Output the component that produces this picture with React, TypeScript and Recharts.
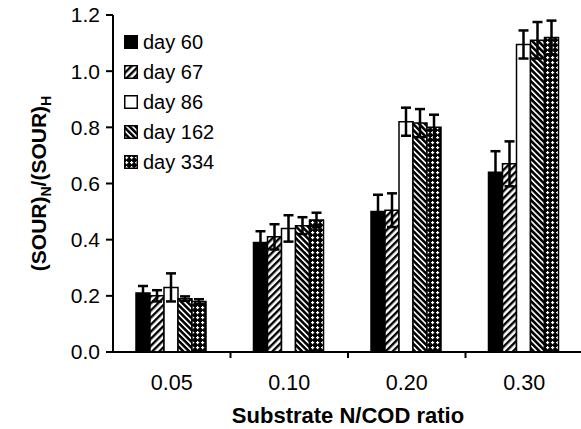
import React from 'react';
import { BarChart, Bar, XAxis, YAxis, ErrorBar } from 'recharts';

const FONT = '"Liberation Sans", Arial, Helvetica, sans-serif';

const categories = ['0.05', '0.10', '0.20', '0.30'];
const seriesNames = ['day 60', 'day 67', 'day 86', 'day 162', 'day 334'];

const day60 = [0.21, 0.39, 0.5, 0.64];
const err60 = [0.025, 0.04, 0.06, 0.075];
const day67 = [0.2, 0.41, 0.505, 0.67];
const err67 = [0.02, 0.045, 0.06, 0.08];
const day86 = [0.23, 0.44, 0.82, 1.095];
const err86 = [0.05, 0.047, 0.05, 0.05];
const day162 = [0.19, 0.45, 0.815, 1.11];
const err162 = [0.008, 0.03, 0.05, 0.065];
const day334 = [0.18, 0.47, 0.8, 1.12];
const err334 = [0.008, 0.026, 0.045, 0.06];

const yTicks = [0, 0.2, 0.4, 0.6, 0.8, 1.0, 1.2];
const xTitle = 'Substrate N/COD ratio';

const data = categories.map((c, i) => ({
  cat: c,
  d60: day60[i], e60: err60[i],
  d67: day67[i], e67: err67[i],
  d86: day86[i], e86: err86[i],
  d162: day162[i], e162: err162[i],
  d334: day334[i], e334: err334[i],
}));

const series = [
  { key: 'd60', err: 'e60', name: seriesNames[0], fill: '#000' },
  { key: 'd67', err: 'e67', name: seriesNames[1], fill: 'url(#pat67)' },
  { key: 'd86', err: 'e86', name: seriesNames[2], fill: '#fff' },
  { key: 'd162', err: 'e162', name: seriesNames[3], fill: 'url(#pat162)' },
  { key: 'd334', err: 'e334', name: seriesNames[4], fill: 'url(#pat334)' },
];

const TS = 6;
const TM = 17;

const XTick = (props: any) => {
  const { x, y, payload, index, width, visibleTicksCount } = props;
  const n = visibleTicksCount || categories.length;
  const w = width || 470;
  const half = w / n / 2;
  return (
    <g>
      <text x={x} y={y} dy="0.71em" textAnchor="middle" fontSize={21.5} fill="#000" fontFamily={FONT}>
        {payload.value}
      </text>
      {index < n - 1 && (
        <line x1={x + half} x2={x + half} y1={y - TM - TS} y2={y - TM} stroke="#000" strokeWidth={2} />
      )}
    </g>
  );
};

const YLabel = (props: any) => {
  const vb = props.viewBox || { x: 0, y: 15, width: 113, height: 337 };
  const cx = vb.x + 46;
  const cy = vb.y + vb.height / 2;
  return (
    <text x={cx} y={cy} transform={`rotate(-90 ${cx} ${cy})`} textAnchor="middle" fontSize={21}
      fontWeight="bold" fontFamily={FONT} fill="#000">
      <tspan>(SOUR)</tspan>
      <tspan fontSize={14} dy={5}>N</tspan>
      <tspan dy={-5}>/(SOUR)</tspan>
      <tspan fontSize={14} dy={5}>H</tspan>
    </text>
  );
};

const XLabel = (props: any) => {
  const vb = props.viewBox || { x: 113, y: 352, width: 470, height: 77 };
  return (
    <text x={vb.x + vb.width / 2} y={vb.y + 71} textAnchor="middle" fontSize={22} fontWeight="bold"
      fontFamily={FONT} fill="#000">
      {xTitle}
    </text>
  );
};

const Patterns = () => (
  <svg width={0} height={0} style={{ position: 'absolute' }}>
    <defs>
      <pattern id="pat67" width={5} height={5} patternUnits="userSpaceOnUse" patternTransform="rotate(45)">
        <rect width={5} height={5} fill="#fff" />
        <rect width={2.4} height={5} fill="#000" />
      </pattern>
      <pattern id="pat162" width={4.2} height={4.2} patternUnits="userSpaceOnUse" patternTransform="rotate(-45)">
        <rect width={4.2} height={4.2} fill="#000" />
        <rect width={1.6} height={4.2} fill="#fff" />
      </pattern>
      <pattern id="pat334" width={5} height={5} patternUnits="userSpaceOnUse">
        <rect width={5} height={5} fill="#000" />
        <rect x={2} y={1} width={1.2} height={3.2} fill="#fff" />
        <rect x={1} y={2} width={3.2} height={1.2} fill="#fff" />
      </pattern>
    </defs>
  </svg>
);

const Legend = () => (
  <div style={{ position: 'absolute', left: 124, top: 27, fontFamily: FONT }}>
    {series.map((s) => (
      <div key={s.key} style={{ display: 'flex', alignItems: 'center', height: 30 }}>
        <svg width={14} height={14} style={{ display: 'block' }}>
          <rect x={0.75} y={0.75} width={12.5} height={12.5} fill={s.fill} stroke="#000" strokeWidth={1.5} />
        </svg>
        <span style={{ marginLeft: 5, fontSize: 20, lineHeight: '30px', color: '#000' }}>{s.name}</span>
      </div>
    ))}
  </div>
);

export default function App() {
  return (
    <div style={{ position: 'absolute', left: 0, top: 0, width: 581, height: 429, overflow: 'hidden', background: '#fff' }}>
      <Patterns />
      <BarChart
        width={590}
        height={429}
        data={data}
        margin={{ top: 15, right: 7, bottom: 0, left: 0 }}
        barCategoryGap={23}
        barGap={0}
      >
        <XAxis
          dataKey="cat"
          height={77}
          axisLine={{ stroke: '#000', strokeWidth: 2 }}
          tickLine={false}
          tickSize={TS}
          tickMargin={TM}
          tick={<XTick />}
          interval={0}
          label={<XLabel />}
        />
        <XAxis xAxisId="top" dataKey="cat" orientation="top" height={0} tick={false} tickLine={false}
          axisLine={{ stroke: '#000', strokeWidth: 1.5 }} />
        <YAxis
          width={113}
          domain={[0, 1.2]}
          ticks={yTicks}
          interval={0}
          tickFormatter={(v: number) => v.toFixed(1)}
          axisLine={{ stroke: '#000', strokeWidth: 2 }}
          tickLine={{ stroke: '#000', strokeWidth: 2 }}
          tickSize={7}
          tickMargin={6}
          tick={{ fontSize: 21, fill: '#000', fontFamily: FONT }}
          label={<YLabel />}
        />
        {series.map((s) => (
          <Bar key={s.key} dataKey={s.key} fill={s.fill} stroke="#000" strokeWidth={1.5} isAnimationActive={false}>
            <ErrorBar dataKey={s.err} width={5} stroke="#000" strokeWidth={2.5} isAnimationActive={false} />
          </Bar>
        ))}
      </BarChart>
      <Legend />
    </div>
  );
}
